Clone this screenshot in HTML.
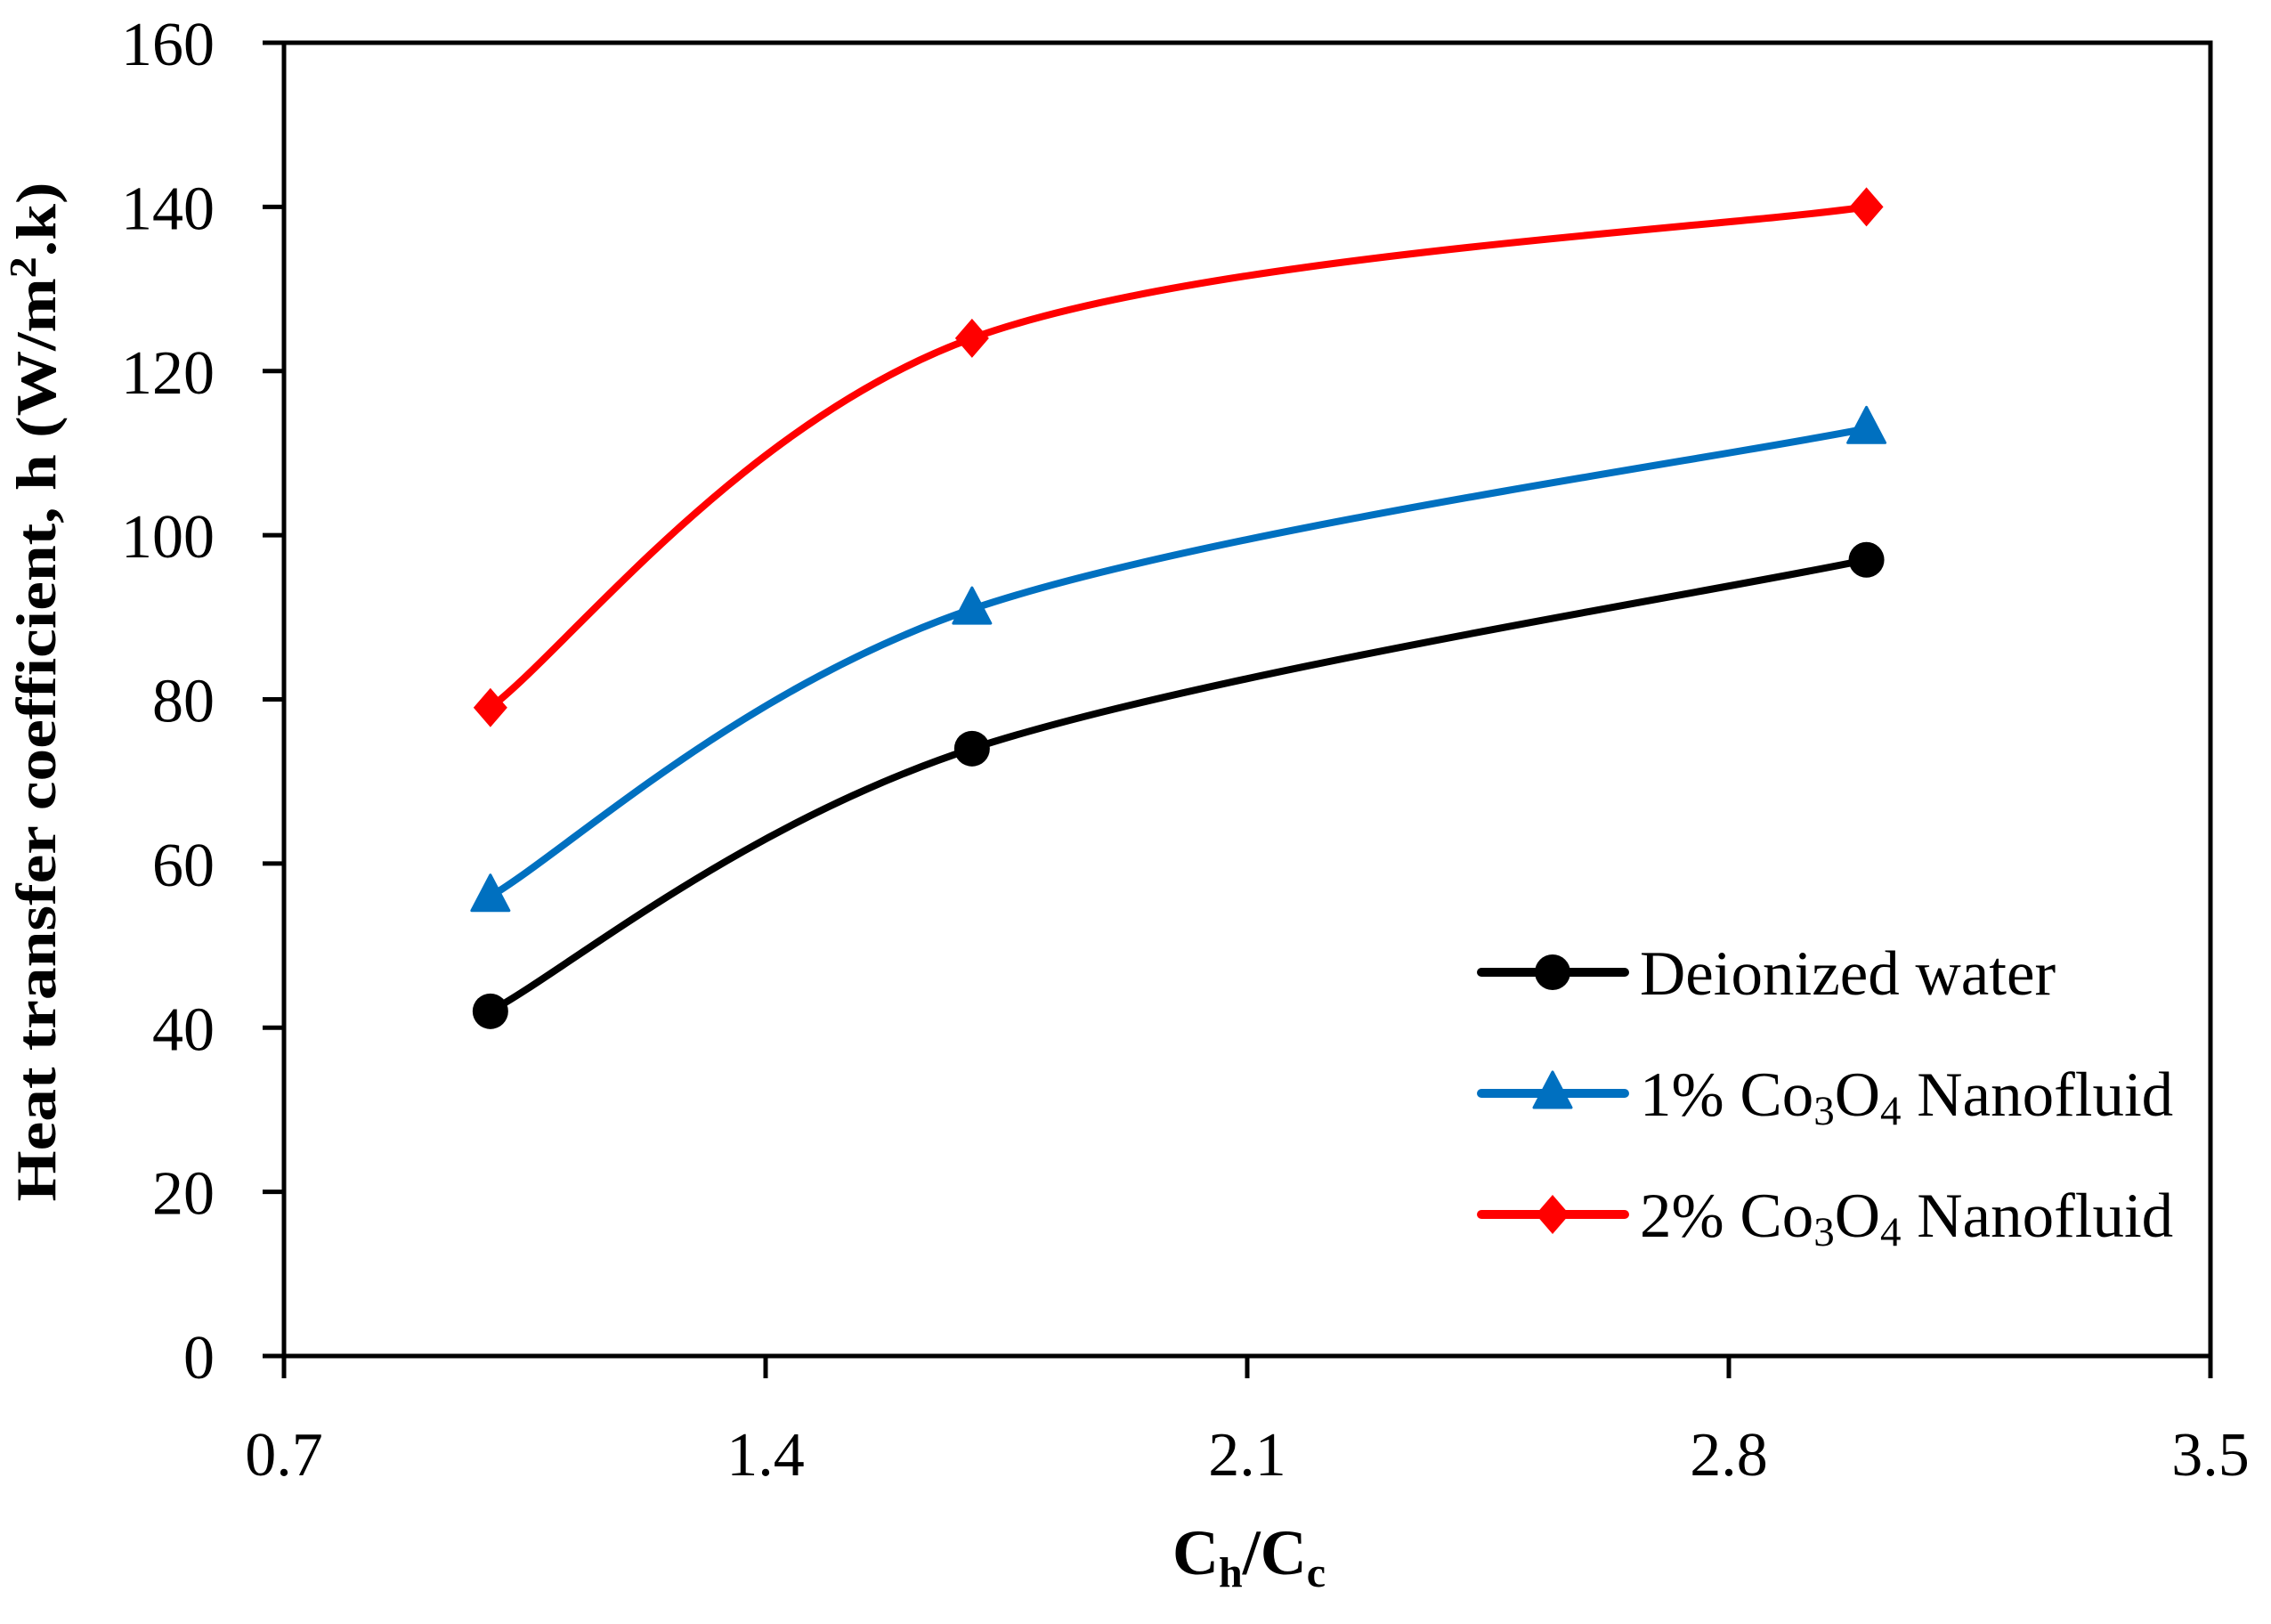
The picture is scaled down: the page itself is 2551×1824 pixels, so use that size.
<!DOCTYPE html>
<html><head><meta charset="utf-8"><style>
html,body{margin:0;padding:0;background:#fff;}
svg{display:block;}
text{font-family:"Liberation Serif",serif;fill:#000;}
</style></head><body>
<svg id="chart" width="2551" height="1824" viewBox="0 0 2551 1824" xmlns="http://www.w3.org/2000/svg">
<g id="axes"></g>
<g id="series"></g>
<g id="legend"></g>
<text transform="translate(62,777) rotate(-90)" text-anchor="middle" font-size="64" font-weight="bold" textLength="1145" lengthAdjust="spacingAndGlyphs">Heat transfer coefficient, h (W/m<tspan font-size="42" dy="-22">2</tspan><tspan dy="22">.k)</tspan></text>
<text x="1403" y="1768" text-anchor="middle" font-size="72" font-weight="bold">C<tspan font-size="48" dy="14">h</tspan><tspan dy="-14">/C</tspan><tspan font-size="48" dy="14">c</tspan></text>
</svg>
<script>
const categories = [1.0, 1.7, 3.0];
const seriesNames = ["Deionized water", "1% Co3O4 Nanofluid", "2% Co3O4 Nanofluid"];
const waterValues = [42, 74, 97];
const nano1Values = [56, 91, 113];
const nano2Values = [79, 124, 140];
const yTicks = [0, 20, 40, 60, 80, 100, 120, 140, 160];
const xTicks = ["0.7", "1.4", "2.1", "2.8", "3.5"];

const NS = "http://www.w3.org/2000/svg";
const L = 319, R = 2483, T = 48, B = 1523;
const xMin = 0.7, xMax = 3.5, yMin = 0, yMax = 160;
function xs(v){ return L + (v - xMin) / (xMax - xMin) * (R - L); }
function ys(v){ return B - (v - yMin) / (yMax - yMin) * (B - T); }
function mk(tag, attrs, parent){
  const e = document.createElementNS(NS, tag);
  for (const k in attrs) e.setAttribute(k, attrs[k]);
  parent.appendChild(e);
  return e;
}
const axes = document.getElementById('axes');
const frame = mk('rect', {x:L, y:T, width:R-L, height:B-T, fill:'none', stroke:'#000', 'stroke-width':5}, axes);


yTicks.forEach(v => {
  const y = ys(v);
  const t = mk('line', {x1:L-24, x2:L, y1:y, y2:y, stroke:'#000', 'stroke-width':5}, axes);
  
  
  const lb = mk('text', {x:241, y:y+25, 'text-anchor':'end', 'font-size':70}, axes);
  
  
  lb.textContent = v;
});
xTicks.forEach(s => {
  const x = xs(parseFloat(s));
  const t = mk('line', {x1:x, x2:x, y1:B, y2:B+25, stroke:'#000', 'stroke-width':5}, axes);
  
  
  const lb = mk('text', {x:x, y:1657, 'text-anchor':'middle', 'font-size':70}, axes);
  
  
  lb.textContent = s;
});

function smoothPath(pts){
  let d = `M${pts[0][0]},${pts[0][1]}`;
  const t = 0.5/3*2;
  for (let i = 0; i < pts.length - 1; i++){
    const p0 = pts[Math.max(0,i-1)], p1 = pts[i], p2 = pts[i+1], p3 = pts[Math.min(pts.length-1,i+2)];
    const c1 = [p1[0] + (p2[0]-p0[0])*t/2, p1[1] + (p2[1]-p0[1])*t/2];
    const c2 = [p2[0] - (p3[0]-p1[0])*t/2, p2[1] - (p3[1]-p1[1])*t/2];
    d += ` C${c1[0]},${c1[1]} ${c2[0]},${c2[1]} ${p2[0]},${p2[1]}`;
  }
  return d;
}
function marker(type, x, y, color, parent, name){
  let e;
  if (type === 'circle') e = mk('circle', {cx:x, cy:y, r:20, fill:color}, parent);
  else if (type === 'triangle') e = mk('path', {d:`M${x},${y-24} L${x+21},${y+16} L${x-21},${y+16} Z`, fill:color, stroke:color, 'stroke-width':3, 'stroke-linejoin':'round'}, parent);
  else e = mk('path', {d:`M${x},${y-22} L${x+19},${y} L${x},${y+22} L${x-19},${y} Z`, fill:color}, parent);
  
  
}
const seriesG = document.getElementById('series');
const legendG = document.getElementById('legend');
const defs = [
  {vals: waterValues, color:'#000000', type:'circle', key:'water'},
  {vals: nano1Values, color:'#0070C0', type:'triangle', key:'nano-1pct'},
  {vals: nano2Values, color:'#FF0000', type:'diamond', key:'nano-2pct'}
];
defs.forEach((s, si) => {
  const pts = categories.map((c, i) => [xs(c), ys(s.vals[i])]);
  const p = mk('path', {d:smoothPath(pts), fill:'none', stroke:s.color, 'stroke-width':8, 'stroke-linecap':'round'}, seriesG);
  
  
  pts.forEach(pt => marker(s.type, pt[0], pt[1], s.color, seriesG, 'marker-' + s.key));
  const ly = 1092 + si * 136;
  const ll = mk('line', {x1:1664, x2:1825, y1:ly, y2:ly, stroke:s.color, 'stroke-width':10, 'stroke-linecap':'round'}, legendG);
  
  
  marker(s.type, 1744, ly, s.color, legendG, 'legend-marker-' + s.key);
});
const legendTexts = [
  ['Deionized water'],
  ['1% Co', '3', 'O', '4', ' Nanofluid'],
  ['2% Co', '3', 'O', '4', ' Nanofluid']
];
legendTexts.forEach((parts, i) => {
  const t = mk('text', {x:1842, y:1092 + i*136 + 25, 'font-size':71}, legendG);
  
  
  parts.forEach((p, j) => {
    const sp = mk('tspan', {}, t);
    if (parts.length > 1 && (j === 1 || j === 3)) { sp.setAttribute('font-size', 47); sp.setAttribute('dy', 10); }
    else if (j === 2 || j === 4) sp.setAttribute('dy', -10);
    sp.textContent = p;
  });
});
</script>
</body></html>
